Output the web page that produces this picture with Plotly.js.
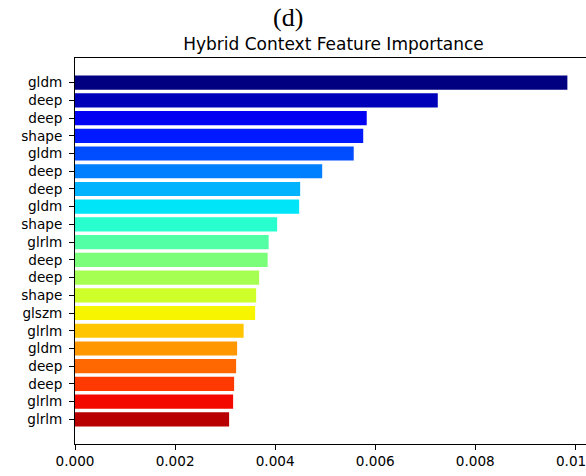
<!DOCTYPE html>
<html>
<head>
<meta charset="utf-8">
<script src="https://cdn.plot.ly/plotly-3.0.1.min.js"></script>
<style>
html, body { margin: 0; padding: 0; overflow: hidden; background: #fff; }
#chart { width: 600px; height: 476px; }
</style>
</head>
<body>
<div id="chart"></div>
<script>
// Features, top to bottom (most important first)
const features = ["gldm", "deep", "deep", "shape", "gldm", "deep", "deep", "gldm", "shape", "glrlm",
                  "deep", "deep", "shape", "glszm", "glrlm", "gldm", "deep", "deep", "glrlm", "glrlm"];
const importance = [0.00984, 0.00725, 0.00583, 0.00576, 0.00557, 0.00494, 0.00450, 0.00448, 0.00404, 0.00387,
                    0.00385, 0.00368, 0.00362, 0.00360, 0.00337, 0.00324, 0.00322, 0.00318, 0.00316, 0.00308];
const xTickVals = [0, 0.002, 0.004, 0.006, 0.008, 0.010];
const xTickText = ["0.000", "0.002", "0.004", "0.006", "0.008", "0.010"];

// matplotlib 'jet' colormap
function interp(pts, t) {
  for (let k = 0; k < pts.length - 1; k++) {
    const [x0, y0] = pts[k], [x1, y1] = pts[k + 1];
    if (t >= x0 && t <= x1) return y0 + (y1 - y0) * (t - x0) / (x1 - x0);
  }
  return pts[pts.length - 1][1];
}
function jet(t) {
  const r = interp([[0,0],[0.35,0],[0.66,1],[0.89,1],[1,0.5]], t);
  const g = interp([[0,0],[0.125,0],[0.375,1],[0.64,1],[0.91,0],[1,0]], t);
  const b = interp([[0,0.5],[0.11,1],[0.34,1],[0.65,0],[1,0]], t);
  return `rgb(${Math.round(r*255)},${Math.round(g*255)},${Math.round(b*255)})`;
}

const n = features.length;
const ypos = features.map((_, i) => n - 1 - i);
const colors = features.map((_, i) => jet(0.95 * i / (n - 1)));

const trace = {
  type: "bar",
  orientation: "h",
  x: importance,
  y: ypos,
  width: 0.8,
  marker: { color: colors, line: { width: 0 } },
  hoverinfo: "x"
};

const axisFont = { family: "DejaVu Sans", size: 13.6, color: "#000" };
const xmax = importance[0] * 1.05;

const layout = {
  width: 600,
  height: 476,
  margin: { l: 75, r: 8, t: 58, b: 32 },
  paper_bgcolor: "#fff",
  plot_bgcolor: "#fff",
  showlegend: false,
  title: {
    text: "Hybrid Context Feature Importance",
    font: { family: "DejaVu Sans", size: 17, color: "#000" },
    x: 0.5, xref: "paper", xanchor: "center",
    y: 1 - 44 / 476, yref: "container", yanchor: "middle"
  },
  xaxis: {
    range: [0, xmax],
    tickvals: xTickVals,
    ticktext: xTickText,
    ticks: "outside", ticklen: 5, tickwidth: 1, tickcolor: "#000",
    showline: true, linecolor: "#000", linewidth: 1, mirror: true,
    showgrid: false, zeroline: false,
    tickfont: axisFont,
    automargin: false
  },
  yaxis: {
    range: [-1.39, n - 1 + 1.39],
    tickvals: ypos,
    ticktext: features,
    ticks: "outside", ticklen: 5, tickwidth: 1, tickcolor: "#000",
    ticklabelstandoff: 4,
    showline: true, linecolor: "#000", linewidth: 1, mirror: true,
    showgrid: false, zeroline: false,
    tickfont: axisFont,
    automargin: false
  },
  annotations: [{
    text: "(d)",
    xref: "paper", yref: "paper",
    x: (288 - 75) / 517, y: 1 + (58 - 17) / 386,
    xanchor: "center", yanchor: "middle",
    showarrow: false,
    font: { family: "Liberation Serif", size: 26, color: "#000" }
  }]
};

Plotly.newPlot("chart", [trace], layout, { displayModeBar: false, staticPlot: true });
</script>
</body>
</html>
